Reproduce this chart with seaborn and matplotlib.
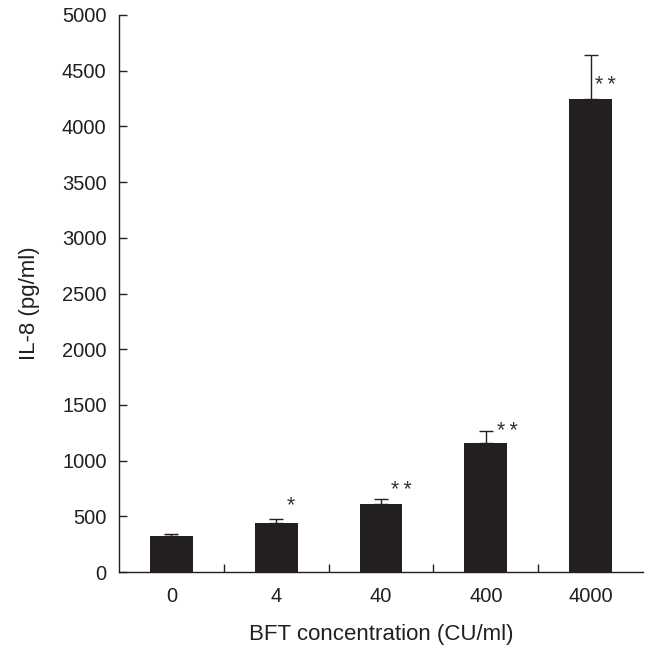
import matplotlib
matplotlib.use("Agg")
import matplotlib.pyplot as plt
import seaborn as sns
import numpy as np
import pandas as pd

categories = ["0", "4", "40", "400", "4000"]
values = [325, 444, 609, 1155, 4247]
errors = [12, 31, 42, 111, 395]
stars = ["", "*", "*\u2009*", "*\u2009*", "*\u2009*"]
star_x = [0, 1.14, 2.19, 3.21, 4.14]
star_y = [0, 619, 757, 1284, 4396]

sns.set_style("ticks")
plt.rcParams["font.family"] = ["Liberation Sans", "DejaVu Sans"]

df = pd.DataFrame({"conc": categories, "il8": values})

fig = plt.figure(figsize=(6.53, 6.45), dpi=100)
ax = fig.add_axes([119 / 653, 1 - 572 / 645, (643 - 119) / 653, (572 - 15) / 645])

bar_color = "#231f20"
sns.barplot(data=df, x="conc", y="il8", color=bar_color, width=0.41,
            errorbar=None, ax=ax, saturation=1, order=categories)
for p in ax.patches:
    p.set_edgecolor("none")

xpos = np.arange(len(categories))
ax.errorbar(xpos, values, yerr=[np.zeros(len(values)), errors], fmt="none",
            ecolor=bar_color, elinewidth=1.0, capsize=5, capthick=1.0)

for s, sx, sy in zip(stars, star_x, star_y):
    if s:
        ax.text(sx, sy - 25, s, ha="center", va="center",
                fontsize=15.5, color="#333333")

ax.set_xlim(-0.5, 4.5)
ax.set_ylim(0, 5000)
ax.set_yticks(np.arange(0, 5001, 500))
ax.set_xticks(xpos)
ax.set_xticklabels(categories)
ax.set_xticks(xpos[:-1] + 0.5, minor=True)
ax.tick_params(axis="x", which="major", length=0, pad=11, labelsize=14.5, colors="#231f20")
ax.tick_params(axis="x", which="minor", length=6, direction="in", width=1, color="#231f20")
ax.tick_params(axis="y", which="major", length=6, direction="in", width=1, pad=9,
               labelsize=14.5, colors="#231f20")
for sp in ["top", "right"]:
    ax.spines[sp].set_visible(False)
for sp in ["left", "bottom"]:
    ax.spines[sp].set_linewidth(1.0)
    ax.spines[sp].set_color("#231f20")

ax.set_xlabel("BFT concentration (CU/ml)", fontsize=16, labelpad=12.5, color="#231f20")
ax.set_ylabel("IL-8 (pg/ml)", fontsize=16, labelpad=15.5, color="#231f20", y=0.483)

fig.savefig("out.png", dpi=100)
